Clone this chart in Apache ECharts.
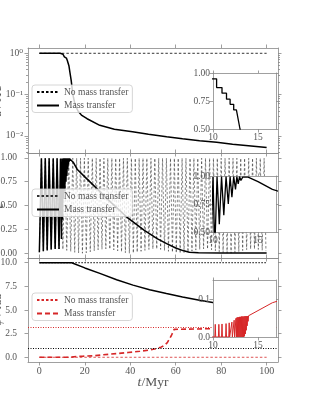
<!DOCTYPE html>
<html><head><meta charset="utf-8">
<script src="https://cdn.jsdelivr.net/npm/echarts@6.0.0/dist/echarts.min.js"></script>
<style>html,body{margin:0;padding:0;background:#fff}#c{width:311px;height:405px}</style>
</head><body><div id="c"></div>
<script>
// ---------- ticks / labels ----------
const tTicks = [0, 20, 40, 60, 80, 100];
const aTickExp = [-2, -1, 0];
const aTickLabels = ['10⁻²', '10⁻¹', '10⁰'];
const eTicks = [0, 0.25, 0.5, 0.75, 1.0];
const p3Ticks = [0, 2.5, 5, 7.5, 10];
const insetXTicks = [10, 15];
const inset1YTicks = [0.5, 0.75, 1.0];
const inset2YTicks = [0.5, 0.75, 1.0];
const inset3YTicks = [0, 0.1];

// ---------- panel 1 : a ----------
const aNoMtT = [0, 100];
const aNoMtV = [1, 1];
const aMtT = [0,9.2,9.2,9.7,9.7,10.4,10.4,11.0,11.0,11.5,11.5,11.9,11.9,12.3,12.3,12.6,13.0,13.5,14.0,14.5,15.0,15.8,17.0,18.5,21,26.6,33,41,48,56,63,70.5,78,85,92,100];
const aMtV = [1.0,1.0,0.975,0.975,0.948,0.948,0.87,0.87,0.82,0.82,0.766,0.766,0.72,0.72,0.67,0.67,0.5,0.33,0.22,0.13,0.085,0.055,0.04,0.032,0.026,0.018,0.0145,0.0126,0.011,0.0095,0.0085,0.0076,0.007,0.0063,0.0058,0.0052];

// ---------- panel 2 : e ----------
const eNoMtTroughT = [0,1.75,3.45,5.2,6.95,8.65,10.35,12.05,13.8,15.55,17.25,18.95,20.65,22.4,24.15,25.85,27.55,29.25,31.0,32.75,34.45,36.15,37.85,39.6,41.35,43.05,44.75,46.45,48.2,49.95,51.65,53.35,55.05,56.8,58.55,60.25,61.95,63.65,65.4,67.15,68.85,70.55,72.25,74.0,75.75,77.45,79.15,80.85,82.6,84.35,86.05,87.75,89.45,91.2,92.95,94.65,96.35,98.05,99.7];
const eNoMtTroughV = [0.01,0.02,0.03,0.04,0.045,0.045,0.04,0.03,0.02,0.01,0.003,0.0,0.005,0.015,0.025,0.035,0.042,0.045,0.043,0.035,0.025,0.015,0.006,0.0,0.002,0.01,0.02,0.03,0.04,0.045,0.045,0.04,0.03,0.02,0.01,0.003,0.0,0.004,0.013,0.023,0.033,0.041,0.045,0.044,0.037,0.027,0.017,0.008,0.001,0.0,0.008,0.018,0.028,0.038,0.044,0.045,0.04,0.032,0.022];
const eNoMtPeakT = [0.9,2.6,4.3,6.1,7.8,9.5,11.2,12.9,14.7,16.4,18.1,19.8,21.5,23.3,25.0,26.7,28.4,30.1,31.9,33.6,35.3,37.0,38.7,40.5,42.2,43.9,45.6,47.3,49.1,50.8,52.5,54.2,55.9,57.7,59.4,61.1,62.8,64.5,66.3,68.0,69.7,71.4,73.1,74.9,76.6,78.3,80.0,81.7,83.5,85.2,86.9,88.6,90.3,92.1,93.8,95.5,97.2,98.9];
const eNoMtPeakV = [0.995];
const eMtT = [0,0.9,1.75,2.6,3.45,4.3,5.2,6.1,6.95,7.8,8.65,9.3,9.7,10.0,10.2,10.45,10.7,10.95,11.2,11.45,11.7,11.9,12.1,12.3,12.5,12.65,12.8,12.95,13.1,13.3,13.9,15.0,16.6,20,24.3,31.6,38.9,46.2,52,56,60,63.5,66,70,80,100];
const eMtV = [0.01,0.995,0.02,0.995,0.03,0.995,0.04,0.995,0.045,0.995,0.045,0.99,0.15,0.99,0.35,0.995,0.57,0.995,0.65,0.995,0.75,0.995,0.81,0.995,0.88,0.995,0.93,0.995,0.96,0.99,0.99,0.95,0.88,0.80,0.70,0.53,0.37,0.24,0.15,0.10,0.055,0.025,0.01,0.005,0.003,0.002];

// ---------- panel 3 ----------
const bNoMtT = [0, 100];
const bNoMtV = [10, 10];
const bMtT = [0,14.2,20,26.6,34,41.2,48.5,55.9,63,70.5,76.3,85,92,100];
const bMtV = [10,10,9.45,8.87,8.2,7.63,7.15,6.75,6.38,6.04,5.79,5.47,5.25,5.05];
const rNoMtT = [0, 100];
const rNoMtV = [0, 0];
const rMtT = [0,10.2,10.25,10.3,10.6,10.65,10.7,10.95,11.0,11.05,11.4,11.45,11.5,11.75,11.8,11.85,12.05,12.1,12.15,12.3,12.35,12.4,12.5,12.55,12.6,12.65,12.7,12.75,12.8,12.85,12.9,12.95,13.0,13.05,13.1,13.15,13.2,13.25,13.3,13.35,13.4,13.45,13.5,13.55,13.6,13.65,13.7,13.75,13.8,13.85,13.9,13.95,14.0,14.1,16.6,19,23.7,28,33.9,39,44.2,48,51.5,53.5,55.1,56.3,57.3,58.1,58.8,59.3,59.6,60,100];
const rMtV = [0,0,0.034,0,0,0.034,0,0,0.035,0,0,0.036,0,0,0.038,0,0,0.04,0,0,0.045,0,0,0.05,0,0.052,0,0.053,0,0.053,0,0.054,0,0.054,0,0.055,0,0.055,0,0.055,0,0.055,0.002,0.056,0.008,0.056,0.018,0.056,0.03,0.056,0.042,0.057,0.052,0.058,0.092,0.11,0.15,0.26,0.39,0.5,0.63,0.75,0.92,1.07,1.27,1.55,1.97,2.3,2.68,2.95,3.1,3.14,3.14];
const refLineBlack = [1.0];
const refLineRed = [3.1416];

// ---------- build ----------
const FONT = '"Liberation Serif", "DejaVu Serif", serif';
const FRAME = '#888';
const TXT = '#555';
const RED = '#d62728';
const zip = (t, v) => t.map((x, i) => [x, v[i]]);
const logZip = (t, v) => t.map((x, i) => [x, Math.log10(v[i])]);

const eNoMt = [];
for (let i = 0; i < eNoMtPeakT.length; i++) {
  eNoMt.push([eNoMtTroughT[i], eNoMtTroughV[i]]);
  eNoMt.push([eNoMtPeakT[i], eNoMtPeakV[0]]);
}
eNoMt.push([eNoMtTroughT[eNoMtTroughT.length - 1], eNoMtTroughV[eNoMtTroughV.length - 1]]);

const minorLog = [];
for (let j = -3; j <= 0; j++) for (let k = 2; k <= 9; k++) {
  const v = Math.log10(k * Math.pow(10, j));
  if (v > -2.415 && v < 0.128) minorLog.push(v);
}

function ax(o) {
  return {
    type: 'value', gridIndex: o.g, position: o.pos, min: o.min, max: o.max, z: o.z || 0,
    axisLine: { show: o.line !== false, onZero: false, lineStyle: { color: FRAME, width: 0.8 } },
    axisTick: { show: true, inside: false, length: o.tl || 3.5, customValues: o.ticks, lineStyle: { color: FRAME, width: 0.8 } },
    axisLabel: { show: !!o.fmt, customValues: o.ticks, formatter: o.fmt, margin: o.margin || 4, color: TXT,
      fontFamily: FONT, fontSize: o.fs || 9.5, showMinLabel: true, showMaxLabel: true, hideOverlap: false },
    splitLine: { show: false },
    name: o.name, nameLocation: 'middle', nameGap: o.nameGap, nameRotate: o.nameRotate,
    nameMoveOverlap: false,
    nameTextStyle: o.nameStyle
  };
}
const f2 = v => v.toFixed(2);
const f1 = v => v.toFixed(1);
const fi = v => String(Math.round(v));
const ynameStyle = { fontFamily: FONT, fontSize: 12, color: TXT, rich: { i: { fontFamily: FONT, fontSize: 12, fontStyle: 'italic', color: TXT } } };

const gBase = { containLabel: false, outerBoundsMode: 'none' };
const gInset = { show: true, backgroundColor: '#fff', borderWidth: 0, z: 10 };
const grids = [
  Object.assign({ left: 28, top: 48, width: 250, height: 105 }, gBase),
  Object.assign({ left: 28, top: 153, width: 250, height: 105 }, gBase),
  Object.assign({ left: 28, top: 258, width: 250, height: 104 }, gBase),
  Object.assign({ left: 213, top: 73, width: 63, height: 56 }, gBase, gInset),
  Object.assign({ left: 213, top: 176, width: 63, height: 56 }, gBase, gInset),
  Object.assign({ left: 213, top: 280, width: 63, height: 57 }, gBase, gInset)
];

const xAxes = [
  ax({ g: 0, pos: 'bottom', min: -5, max: 105, ticks: tTicks }),
  ax({ g: 0, pos: 'top', min: -5, max: 105, ticks: tTicks }),
  ax({ g: 1, pos: 'bottom', min: -5, max: 105, ticks: tTicks }),
  ax({ g: 1, pos: 'top', min: -5, max: 105, ticks: tTicks }),
  ax({ g: 2, pos: 'bottom', min: -5, max: 105, ticks: tTicks, fmt: fi, margin: 4, fs: 10,
    name: '{i|t}/Myr', nameGap: 13,
    nameStyle: { fontFamily: FONT, fontSize: 13.5, color: TXT, rich: { i: { fontFamily: FONT, fontSize: 13.5, fontStyle: 'italic', color: TXT } } } }),
  ax({ g: 2, pos: 'top', min: -5, max: 105, ticks: tTicks }),
  ax({ g: 3, pos: 'bottom', min: 10, max: 17, ticks: insetXTicks, fmt: fi, margin: 3, z: 11 }),
  ax({ g: 3, pos: 'top', min: 10, max: 17, ticks: insetXTicks, z: 11, tl: 2.5 }),
  ax({ g: 4, pos: 'bottom', min: 10, max: 17, ticks: insetXTicks, fmt: fi, margin: 3, z: 11 }),
  ax({ g: 4, pos: 'top', min: 10, max: 17, ticks: insetXTicks, z: 11, tl: 2.5 }),
  ax({ g: 5, pos: 'bottom', min: 10, max: 17, ticks: insetXTicks, fmt: fi, margin: 3, z: 11 }),
  ax({ g: 5, pos: 'top', min: 10, max: 17, ticks: insetXTicks, z: 11, tl: 2.5 })
];

const yAxes = [
  ax({ g: 0, pos: 'left', min: -2.415, max: 0.128, ticks: aTickExp, fmt: v => aTickLabels[aTickExp.indexOf(Math.round(v))], margin: 5,
    name: '{i|a} / AU', nameGap: 24, nameStyle: ynameStyle }),
  ax({ g: 0, pos: 'right', min: -2.415, max: 0.128, ticks: aTickExp }),
  ax({ g: 0, pos: 'left', min: -2.415, max: 0.128, ticks: minorLog, tl: 2, line: false }),
  ax({ g: 0, pos: 'right', min: -2.415, max: 0.128, ticks: minorLog, tl: 2, line: false }),
  ax({ g: 1, pos: 'left', min: -0.05, max: 1.05, ticks: eTicks, fmt: f2, margin: 11,
    name: '{i|e}', nameGap: 22, nameStyle: ynameStyle }),
  ax({ g: 1, pos: 'right', min: -0.05, max: 1.05, ticks: eTicks }),
  ax({ g: 2, pos: 'left', min: -0.5, max: 10.5, ticks: p3Ticks, fmt: f1, margin: 11,
    name: '{i|ψ} / rad', nameGap: 24, nameStyle: ynameStyle }),
  ax({ g: 2, pos: 'right', min: -0.5, max: 10.5, ticks: p3Ticks }),
  ax({ g: 3, pos: 'left', min: 0.5, max: 1.0, ticks: inset1YTicks, fmt: f2, margin: 3, z: 11 }),
  ax({ g: 3, pos: 'right', min: 0.5, max: 1.0, ticks: inset1YTicks, z: 11, tl: 2.5 }),
  ax({ g: 4, pos: 'left', min: 0.5, max: 1.0, ticks: inset2YTicks, fmt: f2, margin: 3, z: 11 }),
  ax({ g: 4, pos: 'right', min: 0.5, max: 1.0, ticks: inset2YTicks, z: 11, tl: 2.5 }),
  ax({ g: 5, pos: 'left', min: 0, max: 0.153, ticks: inset3YTicks, fmt: f1, margin: 3, z: 11 }),
  ax({ g: 5, pos: 'right', min: 0, max: 0.153, ticks: inset3YTicks, z: 11, tl: 2.5 })
];

const N1 = 'No mass transfer', M1 = 'Mass transfer';
const N2 = N1 + '\u200b', M2 = M1 + '\u200b';
const N3 = N1 + '\u200c', M3 = M1 + '\u200c';

function line(name, xi, yi, data, color, width, type, z) {
  return { type: 'line', name, xAxisIndex: xi, yAxisIndex: yi, data, symbol: 'none', showSymbol: false,
    animation: false, silent: true, z: z || 2, clip: true,
    lineStyle: { color, width, type: type || 'solid', cap: 'butt' }, itemStyle: { color } };
}
const dashNo = [2.5, 2];
const series = [
  line(N1, 0, 0, logZip(aNoMtT, aNoMtV), '#000', 0.8, dashNo),
  line(M1, 0, 0, logZip(aMtT, aMtV), '#000', 1.5),
  line('in1', 6, 8, zip(aMtT, aMtV), '#000', 1.3, 'solid', 12),
  line(N2, 2, 4, eNoMt, '#333', 0.6, dashNo),
  line(M2, 2, 4, zip(eMtT, eMtV), '#000', 1.5),
  line('in2', 8, 10, zip(eMtT, eMtV), '#000', 1.3, 'solid', 12),
  line('b3mt', 4, 6, zip(bMtT, bMtV), '#000', 1.5),
  line('b3no', 4, 6, zip(bNoMtT, bNoMtV), '#000', 1, [1.5, 1.5]),
  Object.assign(line(N3, 4, 6, zip(rNoMtT, rNoMtV), RED, 0.8, dashNo), {
    markLine: { silent: true, symbol: ['none', 'none'], label: { show: false }, animation: false,
      data: [
        { yAxis: refLineRed[0], lineStyle: { color: RED, type: [1, 1.5], width: 1 } },
        { yAxis: refLineBlack[0], lineStyle: { color: '#000', type: [1, 1.5], width: 1 } }
      ] }
  }),
  line(M3, 4, 6, zip(rMtT, rMtV), RED, 1.6, [5, 3]),
  line('in3', 10, 12, zip(rMtT, rMtV), RED, 1, 'solid', 12)
];

function leg(top, names) {
  return { show: true, orient: 'vertical', left: 32, top, data: names, itemWidth: 22, itemHeight: 8, itemGap: 3.5,
    padding: [2, 4, 2, 4], backgroundColor: 'rgba(255,255,255,0.8)', borderColor: '#ccc', borderWidth: 0.8,
    borderRadius: 3, selectedMode: false, z: 5,
    itemStyle: { opacity: 0, borderWidth: 0 },
    textStyle: { fontFamily: FONT, fontSize: 9.5, color: TXT } };
}

const chart = echarts.init(document.getElementById('c'), null, { renderer: 'canvas' });
chart.setOption({
  animation: false,
  backgroundColor: '#fff',
  grid: grids,
  xAxis: xAxes,
  yAxis: yAxes,
  legend: [leg(85, [N1, M1]), leg(189, [N2, M2]), leg(293, [N3, M3])],
  series
});
</script></body></html>
